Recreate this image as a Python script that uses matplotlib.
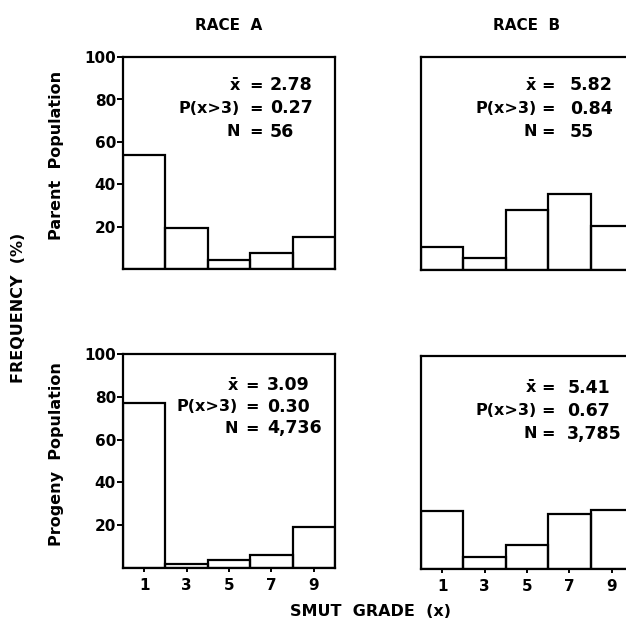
import matplotlib
matplotlib.use("Agg")
import matplotlib.pyplot as plt

plt.rcParams["font.family"] = ["DejaVu Sans"]
plt.rcParams["font.weight"] = "bold"

grades = [1, 3, 5, 7, 9]
yticks = [20, 40, 60, 80, 100]

parent_a = [53.8, 19.5, 4.3, 7.6, 15.5]
parent_b = [11.0, 5.5, 28.2, 35.5, 20.8]
progeny_a = [77.3, 1.7, 3.9, 6.2, 19.2]
progeny_b = [27.1, 5.7, 11.2, 26.0, 27.6]

stats_parent_a = ["2.78", "0.27", "56"]
stats_parent_b = ["5.82", "0.84", "55"]
stats_progeny_a = ["3.09", "0.30", "4,736"]
stats_progeny_b = ["5.41", "0.67", "3,785"]

W, H = 626, 621
fig = plt.figure(figsize=(W / 100, H / 100), dpi=100)


def px_axes(x0, y0, x1, y1):
    return fig.add_axes([x0 / W, 1 - y1 / H, (x1 - x0) / W, (y1 - y0) / H])


def draw_panel(ax, values, stats, xs, ys, left_ticks, bottom_ticks):
    ax.bar(grades, values, width=2, fill=False, edgecolor="black", linewidth=1.6)
    ax.set_xlim(0, 10)
    ax.set_ylim(0, 100)
    for s in ax.spines.values():
        s.set_linewidth(1.6)
    if left_ticks:
        ax.set_yticks(yticks)
        ax.tick_params(axis="y", direction="out", length=4, width=1.4,
                       labelsize=11, pad=1)
    else:
        ax.set_yticks([])
    if bottom_ticks:
        ax.set_xticks(grades)
        ax.tick_params(axis="x", direction="out", length=3, width=1.4,
                       labelsize=11, pad=4)
    else:
        ax.set_xticks([])
    lefts = ["x\u0304", "P(x>3)", "N"]
    x_left, x_eq, x_val = xs
    for lab, val, y in zip(lefts, stats, ys):
        ax.text(x_left, y, lab, transform=ax.transAxes, ha="right",
                va="center", fontsize=11.5)
        ax.text(x_eq, y, "=", transform=ax.transAxes, ha="center",
                va="center", fontsize=11.5)
        ax.text(x_val, y, val, transform=ax.transAxes, ha="left",
                va="center", fontsize=12.5)


ax1 = px_axes(123, 57, 335, 269.5)
ax2 = px_axes(421, 57, 633, 270)
ax3 = px_axes(123, 354, 335, 568)
ax4 = px_axes(421, 356, 633, 569)

draw_panel(ax1, parent_a, stats_parent_a, (0.552, 0.627, 0.693),
           (0.868, 0.758, 0.648), True, False)
draw_panel(ax2, parent_b, stats_parent_b, (0.545, 0.60, 0.703),
           (0.868, 0.758, 0.648), False, False)
draw_panel(ax3, progeny_a, stats_progeny_a, (0.542, 0.61, 0.68),
           (0.855, 0.754, 0.654), True, True)
draw_panel(ax4, progeny_b, stats_progeny_b, (0.545, 0.60, 0.69),
           (0.85, 0.743, 0.636), False, True)

fig.text(229 / W, 1 - 25 / H, "RACE  A", ha="center", va="center", fontsize=11)
fig.text(527 / W, 1 - 25 / H, "RACE  B", ha="center", va="center", fontsize=11)
fig.text(19 / W, 1 - 308 / H, "FREQUENCY  (%)", ha="center", va="center",
         rotation=90, fontsize=11.5)
fig.text(57 / W, 1 - 155 / H, "Parent  Population", ha="center", va="center",
         rotation=90, fontsize=11.5)
fig.text(57 / W, 1 - 454 / H, "Progeny  Population", ha="center", va="center",
         rotation=90, fontsize=11.5)
fig.text(370 / W, 1 - 612 / H, "SMUT  GRADE  (x)", ha="center", va="center",
         fontsize=11.5)

fig.savefig("out.png", dpi=100)
